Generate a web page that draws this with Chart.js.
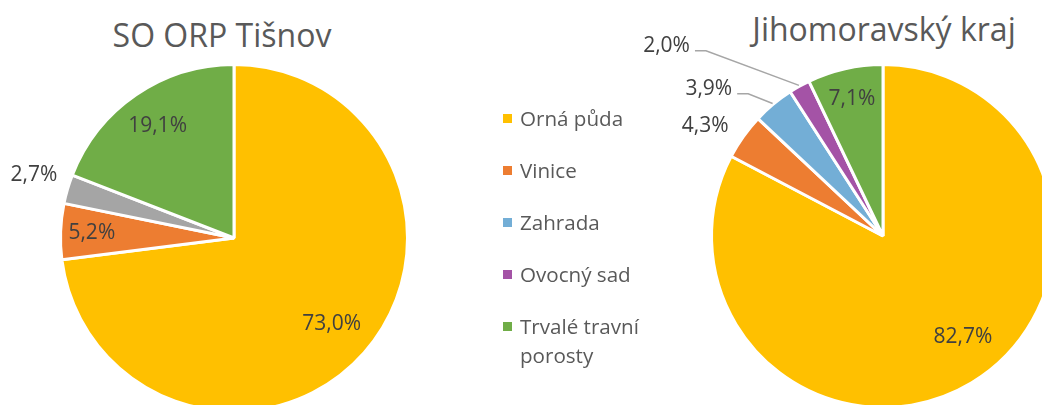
<!DOCTYPE html>
<html lang="cs">
<head>
<meta charset="utf-8">
<script src="https://cdn.jsdelivr.net/npm/chart.js@4.4.0/dist/chart.umd.min.js"></script>
<style>
  html, body { margin: 0; padding: 0; background: #fff; }
  body { width: 1042px; height: 405px; overflow: hidden; position: relative; font-family: "Open Sans", sans-serif; }
  .title { position: absolute; font-size: 32px; line-height: 40px; color: #595959; white-space: nowrap; transform: translateX(-50%); }
  #titleLeft { left: 222px; top: 15px; }
  #titleRight { left: 884px; top: 9px; }
  .box { position: absolute; top: 0; }
  #leftBox { left: 0; }
  #rightBox { left: 600px; }
  #legend { position: absolute; left: 503px; top: 104px; margin: 0; padding: 0; list-style: none; width: 160px; }
  #legend li { position: relative; padding-left: 17px; font-size: 20.6px; line-height: 29px; color: #595959; margin-bottom: 23px; }
  #legend li span { position: absolute; left: 0; top: 10px; width: 9px; height: 9px; }
</style>
</head>
<body>
<div id="titleLeft" class="title">SO ORP Tišnov</div>
<div id="titleRight" class="title">Jihomoravský kraj</div>
<div id="leftBox" class="box"><canvas id="leftChart" width="470" height="440"></canvas></div>
<div id="rightBox" class="box"><canvas id="rightChart" width="480" height="440"></canvas></div>
<ul id="legend"></ul>
<script>
// kategorie a hodnoty (%)
const categories = ['Orná půda', 'Vinice', 'Zahrada', 'Ovocný sad', 'Trvalé travní porosty'];
const tisnovValues = [73.0, 5.2, 2.7, 0, 19.1];
const krajValues = [82.7, 4.3, 3.9, 2.0, 7.1];

// barvy
const legendColors = ['#FFC000', '#ED7D31', '#73AED6', '#A453A6', '#70AD47'];
const tisnovColors = ['#FFC000', '#ED7D31', '#A5A5A5', '#A453A6', '#70AD47'];

// umístění popisků (úhel ve stupních, vzdálenost jako násobek poloměru)
const tisnovLabelPos = [{dist: 0.75}, {dist: 0.82}, {dist: 1.21, angle: 197.6}, null, {dist: 0.78}];
const krajLabelPos = [
    {dist: 0.75, angle: 51.6},
    {dist: 1.22, angle: 211.8},
    {dist: 1.33, angle: 220.2, leader: true},
    {dist: 1.68, angle: 221.3, leader: true},
    {dist: 0.82}
];

function formatPct(v) {
    return v.toFixed(1).replace('.', ',') + '%';
}

// popisky hodnot
const pieLabels = {
    id: 'pieLabels',
    afterDatasetsDraw(chart, args, opts) {
        const ctx = chart.ctx;
        const meta = chart.getDatasetMeta(0);
        const values = chart.data.datasets[0].data;
        ctx.save();
        ctx.font = '21px "Open Sans"';
        ctx.textAlign = 'center';
        ctx.textBaseline = 'middle';
        meta.data.forEach((arc, i) => {
            const place = opts.positions[i];
            if (!values[i] || !place) return;
            const p = arc.getProps(['x', 'y', 'startAngle', 'endAngle', 'outerRadius'], true);
            const mid = (p.startAngle + p.endAngle) / 2;
            const a = place.angle !== undefined ? place.angle * Math.PI / 180 : mid;
            const lx = p.x + Math.cos(a) * p.outerRadius * place.dist;
            const ly = p.y + Math.sin(a) * p.outerRadius * place.dist;
            const text = formatPct(values[i]);
            if (place.leader) {
                const w = ctx.measureText(text).width;
                const sx = lx + w / 2 + 5;
                const sy = ly + 5;
                ctx.beginPath();
                ctx.moveTo(sx, sy);
                ctx.lineTo(sx + 11, sy);
                ctx.lineTo(p.x + Math.cos(mid) * (p.outerRadius + 1), p.y + Math.sin(mid) * (p.outerRadius + 1));
                ctx.strokeStyle = '#A6A6A6';
                ctx.lineWidth = 1.5;
                ctx.stroke();
            }
            ctx.fillStyle = '#404040';
            ctx.fillText(text, lx, ly);
        });
        ctx.restore();
    }
};

function makePie(id, values, colors, labelPos, padding) {
    return new Chart(document.getElementById(id), {
        type: 'pie',
        data: {
            labels: categories,
            datasets: [{
                data: values,
                backgroundColor: colors,
                borderColor: '#ffffff',
                borderWidth: 3,
                hoverOffset: 0
            }]
        },
        options: {
            responsive: false,
            animation: false,
            layout: { padding: padding },
            plugins: {
                legend: { display: false },
                tooltip: { enabled: false },
                pieLabels: { positions: labelPos }
            }
        },
        plugins: [pieLabels]
    });
}

makePie('leftChart', tisnovValues, tisnovColors, tisnovLabelPos, {left: 59, top: 63, right: 61, bottom: 27});
makePie('rightChart', krajValues, legendColors, krajLabelPos, {left: 110, top: 63, right: 24, bottom: 31});

// legenda
const legend = document.getElementById('legend');
categories.forEach((name, i) => {
    const li = document.createElement('li');
    const box = document.createElement('span');
    box.style.background = legendColors[i];
    li.appendChild(box);
    li.appendChild(document.createTextNode(name));
    legend.appendChild(li);
});
</script>
</body>
</html>
